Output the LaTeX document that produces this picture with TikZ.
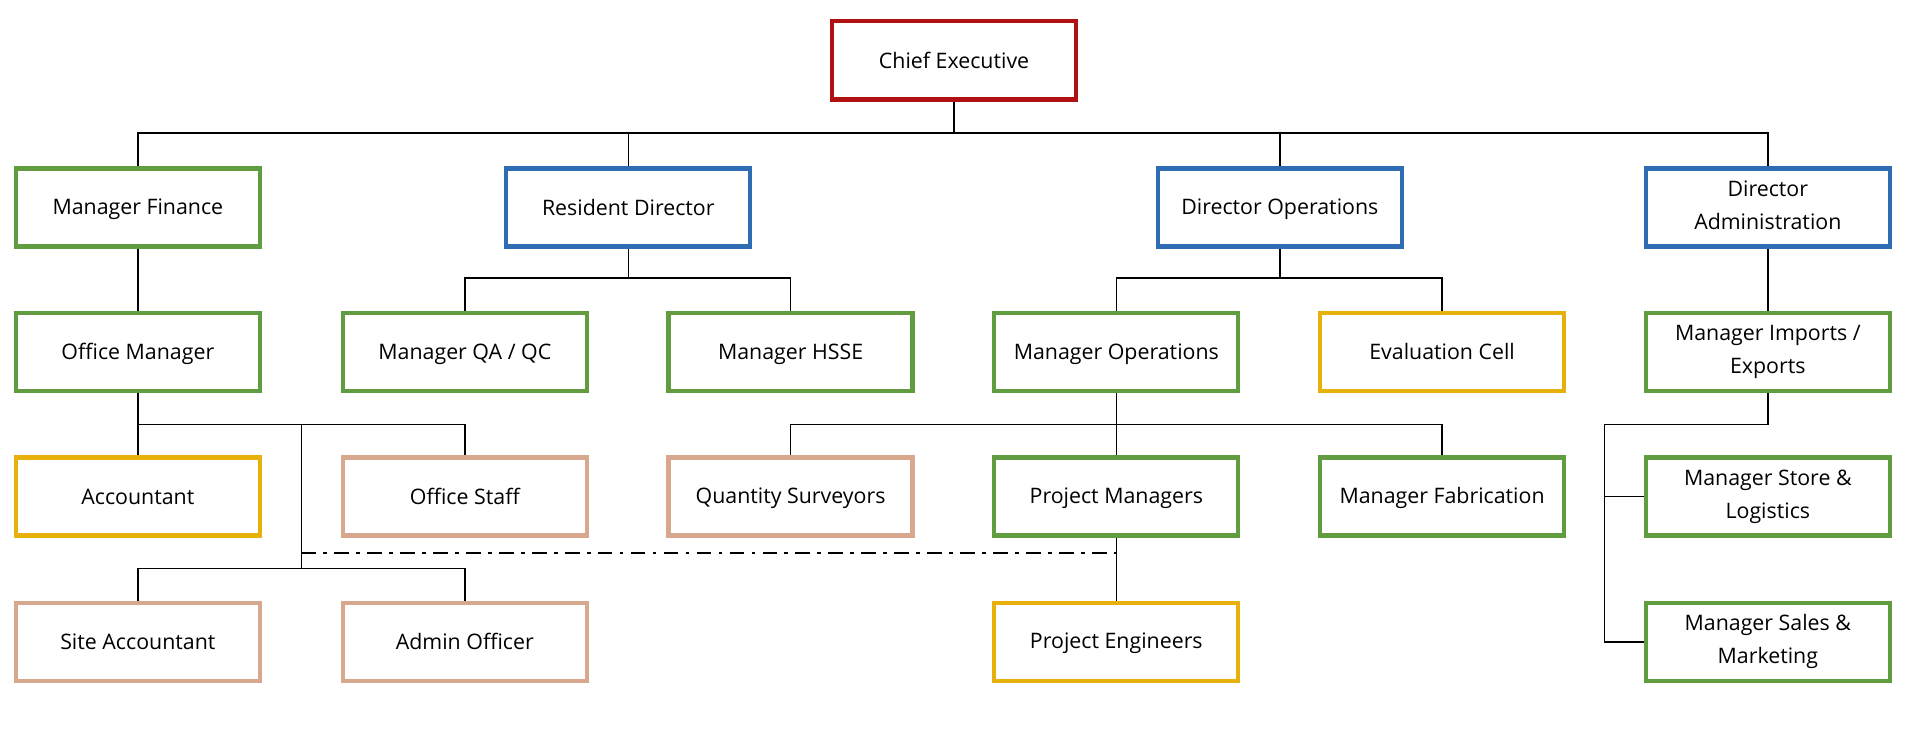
\documentclass[tikz,border=0pt]{standalone}
\usepackage{fontspec}
\setmainfont{Open Sans}
\usetikzlibrary{calc}
\definecolor{cred}{RGB}{176,16,16}
\definecolor{cgreen}{RGB}{98,156,64}
\definecolor{cblue}{RGB}{46,109,180}
\definecolor{cgold}{RGB}{232,176,10}
\definecolor{ctan}{RGB}{216,168,142}
\newcommand\topstrutx{\rule{0pt}{16pt}}
\newcommand\botstrutx{\rule[-3.5pt]{0pt}{3.5pt}}
\tikzset{
  box/.style={draw, line width=3.5pt, fill=white, minimum width=200pt, minimum height=64pt, align=center, inner sep=2pt,
    font=\fontsize{17.5}{27}\selectfont, execute at begin node=\topstrutx, execute at end node=\botstrutx},
  redbox/.style={box, draw=cred},
  greenbox/.style={box, draw=cgreen},
  bluebox/.style={box, draw=cblue},
  goldbox/.style={box, draw=cgold},
  tanbox/.style={box, draw=ctan},
  conn/.style={draw=black, line width=1.3pt},
  dd/.style={draw=black, line width=1.4pt, dash pattern=on 12pt off 6pt on 3pt off 6pt}
}
\begin{document}
\begin{tikzpicture}[x=1pt,y=-1pt]
\useasboundingbox (0,0) rectangle (1568,611);
% nodes
\node[redbox] (ce) at (782,49.5) {Chief Executive};
\node[greenbox] (mf) at (113,170) {Manager Finance};
\node[bluebox] (rd) at (515,170) {Resident Director};
\node[bluebox] (do) at (1049,170) {Director Operations};
\node[bluebox] (da) at (1449,170) {Director\\Administration};
\node[greenbox] (om) at (113,288.5) {Office Manager};
\node[greenbox] (qa) at (381,288.5) {Manager QA / QC};
\node[greenbox] (hs) at (648,288.5) {Manager HSSE};
\node[greenbox] (mo) at (915,288.5) {Manager Operations};
\node[goldbox] (ec) at (1182,288.5) {Evaluation Cell};
\node[greenbox] (mie) at (1449,288.5) {Manager Imports /\\Exports};
\node[goldbox] (acc) at (113,407) {Accountant};
\node[tanbox] (os) at (381,407) {Office Staff};
\node[tanbox] (qs) at (648,407) {Quantity Surveyors};
\node[greenbox] (pm) at (915,407) {Project Managers};
\node[greenbox] (mfab) at (1182,407) {Manager Fabrication};
\node[greenbox] (msl) at (1449,407) {Manager Store \&\\Logistics};
\node[tanbox] (sa) at (113,526) {Site Accountant};
\node[tanbox] (ao) at (381,526) {Admin Officer};
\node[goldbox] (pe) at (915,526) {Project Engineers};
\node[greenbox] (msm) at (1449,526) {Manager Sales \&\\Marketing};
% junction coordinates
\coordinate (j0) at (782,109);
\coordinate (j1) at (515,228);
\coordinate (j2) at (1049,228);
\coordinate (j3) at (113,348);
\coordinate (v1) at (247,348);
\coordinate (v2) at (247,466);
\coordinate (j4) at (915,348);
\coordinate (k1) at (1315,348);
\coordinate (d1) at (247,453);
% connectors
\draw[conn] (ce.south) -- (j0);
\draw[conn] (j0) -| (mf.north);
\draw[conn] (j0) -| (rd.north);
\draw[conn] (j0) -| (do.north);
\draw[conn] (j0) -| (da.north);
\draw[conn] (mf.south) -- (om.north);
\draw[conn] (rd.south) -- (j1);
\draw[conn] (j1) -| (qa.north);
\draw[conn] (j1) -| (hs.north);
\draw[conn] (do.south) -- (j2);
\draw[conn] (j2) -| (mo.north);
\draw[conn] (j2) -| (ec.north);
\draw[conn] (da.south) -- (mie.north);
\draw[conn] (om.south) -- (acc.north);
\draw[conn] (j3) -| (os.north);
\draw[conn] (v1) -- (v2);
\draw[conn] (v2) -| (sa.north);
\draw[conn] (v2) -| (ao.north);
\draw[conn] (mo.south) -- (pm.north);
\draw[conn] (j4) -| (qs.north);
\draw[conn] (j4) -| (mfab.north);
\draw[conn] (pm.south) -- (pe.north);
\draw[conn] (mie.south) |- (k1);
\draw[conn] (k1) |- (msl.west);
\draw[conn] (k1) |- (msm.west);
\draw[dd] (d1) -- (pm.south |- d1);
\end{tikzpicture}
\end{document}
